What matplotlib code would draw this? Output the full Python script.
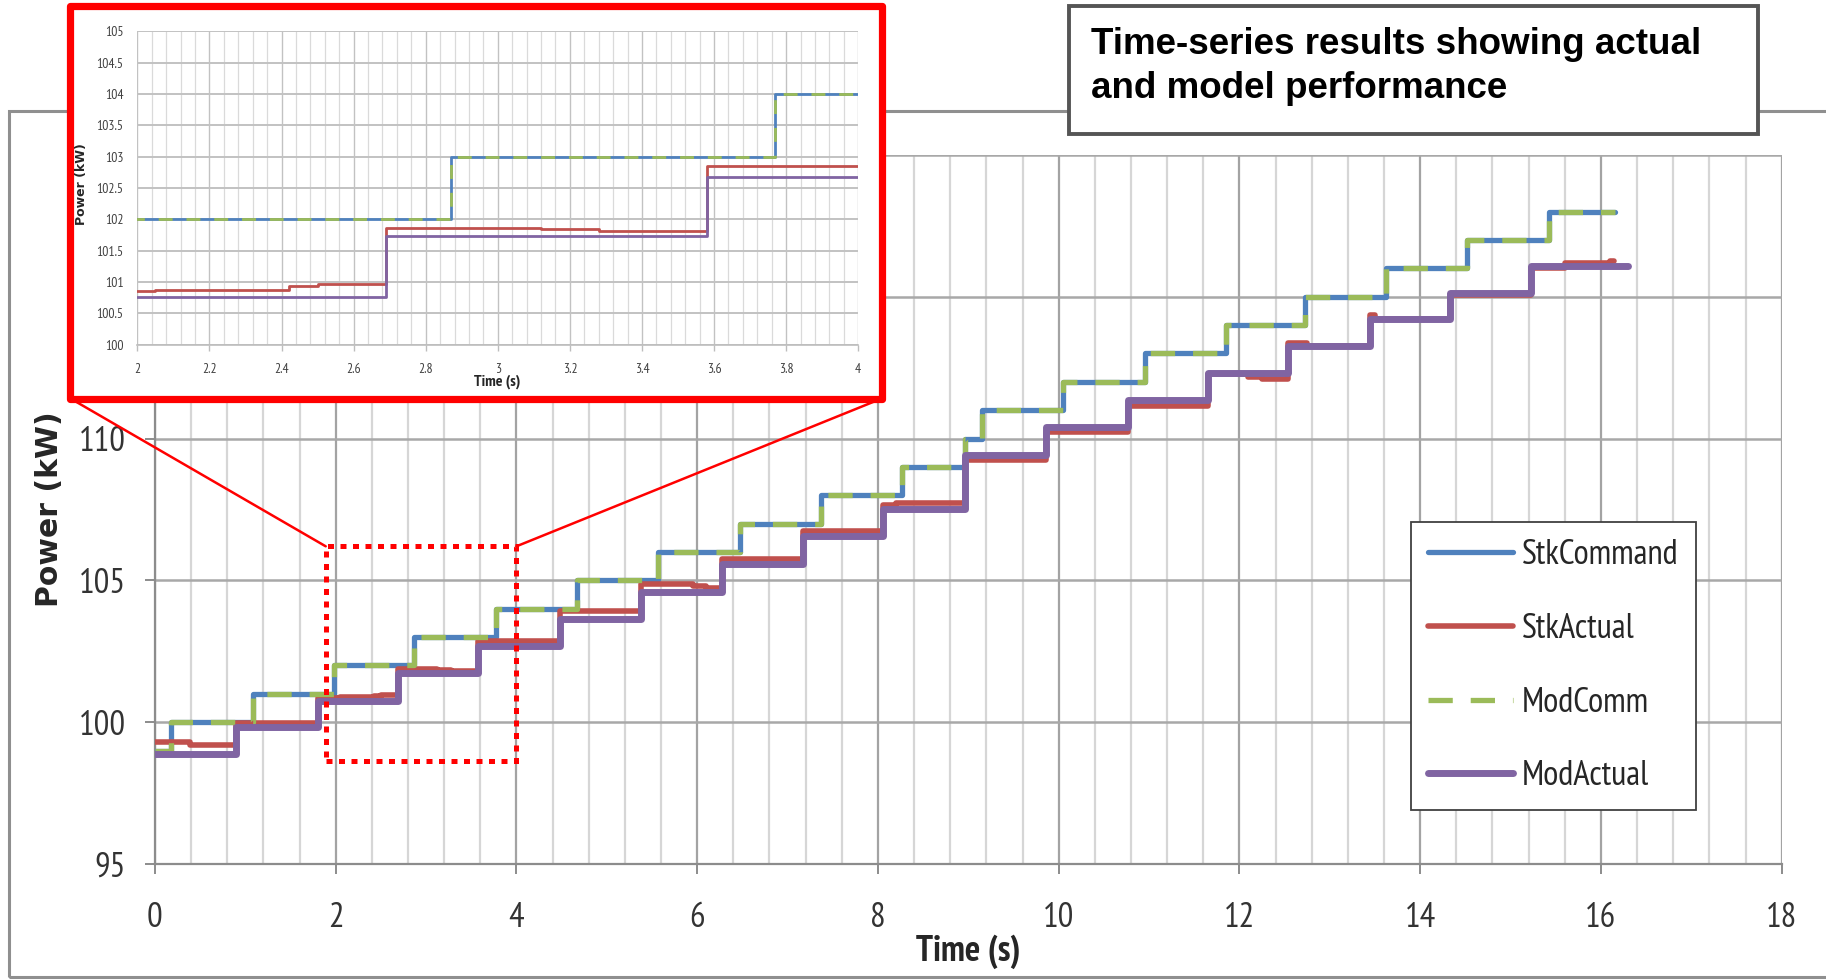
import matplotlib
matplotlib.use("Agg")
import matplotlib.pyplot as plt
from matplotlib.patches import Rectangle, ConnectionPatch
from matplotlib.ticker import MultipleLocator
from matplotlib import font_manager

W, H, DPI = 1826, 980, 100

# ---------------- data ----------------
series_names = ["StkCommand", "StkActual", "ModComm", "ModActual"]

# Command (StkCommand and ModComm are identical step commands)
cmd_t = [0, 0.18, 1.08, 1.98, 2.87, 3.77, 4.67, 5.57, 6.47, 7.37, 8.27, 8.96,
         9.15, 10.05, 10.95, 11.85, 12.73, 13.62, 14.52, 15.42, 16.15]
cmd_v = [99, 100, 101, 102, 103, 104, 105, 106, 107, 108, 109, 110,
         111, 112, 113, 114, 115, 116, 117, 118, 118]
modcomm_t = list(cmd_t)
modcomm_v = list(cmd_v)

# Stack actual
stk_t = [0, 0.39, 0.9, 1.8, 2.05, 2.42, 2.5, 2.69, 3.12, 3.28, 3.58, 4.48,
         5.38, 5.95, 6.1, 6.27, 7.17, 8.06, 8.2, 8.96, 9.86, 10.77, 11.65,
         12.1, 12.25, 12.54, 12.75, 13.44, 13.5, 14.33, 15.23, 15.6, 16.1, 16.14]
stk_v = [99.30, 99.18, 99.97, 100.85, 100.88, 100.93, 100.97, 101.87, 101.84,
         101.82, 102.85, 103.93, 104.86, 104.80, 104.74, 105.74, 106.75,
         107.66, 107.74, 109.24, 110.24, 111.15, 112.28, 112.18, 112.10,
         113.38, 113.26, 114.35, 114.20, 115.06, 116.00, 116.20, 116.26, 116.26]

# Model actual
mod_t = [0, 0.9, 1.8, 2.69, 3.58, 4.48, 5.38, 6.27, 7.17, 8.06, 8.96, 9.86,
         10.77, 11.65, 12.54, 13.44, 14.33, 15.23, 16.30]
mod_v = [98.88, 99.82, 100.76, 101.73, 102.68, 103.65, 104.58, 105.57, 106.57,
         107.53, 109.42, 110.41, 111.36, 112.30, 113.27, 114.21, 115.14, 116.10,
         116.10]

x_ticks = [0, 2, 4, 6, 8, 10, 12, 14, 16, 18]
y_ticks = [95, 100, 105, 110, 115, 120]
# labels of 115 and 120 lie under the inset in the original, so they are not shown
y_labels = ["95", "100", "105", "110", "", ""]

inset_xticks = [2, 2.2, 2.4, 2.6, 2.8, 3, 3.2, 3.4, 3.6, 3.8, 4]
inset_xlabels = ["2", "2.2", "2.4", "2.6", "2.8", "3", "3.2", "3.4", "3.6", "3.8", "4"]
inset_yticks = [100, 100.5, 101, 101.5, 102, 102.5, 103, 103.5, 104, 104.5, 105]
inset_ylabels = ["100", "100.5", "101", "101.5", "102", "102.5", "103", "103.5",
                 "104", "104.5", "105"]

# zoomed region marked on main chart (time range, power range)
zoom_t = [1.89, 4.0]
zoom_p = [98.64, 106.2]

title_lines = ["Time-series results showing actual", "and model performance"]

# ---------------- style ----------------
BLUE, RED, GREEN, PURPLE = "#4f81bd", "#c0504d", "#9bbb59", "#8064a2"
names = {f.name for f in font_manager.fontManager.ttflist}
NARROW = next((n for n in ["PT Sans Narrow", "Liberation Sans Narrow", "Liberation Sans"]
               if n in names), "DejaVu Sans")
TXT = "#333333"

fig = plt.figure(figsize=(W / DPI, H / DPI), dpi=DPI)
fig.patch.set_facecolor("white")


def fx(px):
    return px / W


def fy(py):
    return 1 - py / H


# outer gray frame
fig.add_artist(Rectangle((fx(9), fy(977)), fx(1850) - fx(9), fy(110.6) - fy(977),
                         transform=fig.transFigure, fill=False, ec="#8f8f8f",
                         lw=2.2, zorder=0.5))

# ---------------- main axes ----------------
ax = fig.add_axes([fx(154.9), fy(864), fx(1781.7) - fx(154.9), fy(154.9) - fy(864)])
ax.set_xlim(0, 18)
ax.set_ylim(95, 120)
ax.set_xticks(x_ticks)
ax.set_yticks(y_ticks)
ax.set_yticklabels(y_labels)
ax.xaxis.set_minor_locator(MultipleLocator(0.4))
ax.set_axisbelow(True)
ax.grid(which="minor", axis="x", color="#d6d6d6", lw=1.6)
ax.grid(which="major", axis="x", color="#a3a3a3", lw=1.6)
ax.grid(which="major", axis="y", color="#a8a8a8", lw=1.8)
for s in ["top", "right"]:
    ax.spines[s].set_visible(False)
for s in ["left", "bottom"]:
    ax.spines[s].set_color("#8c8c8c")
    ax.spines[s].set_linewidth(1.6)
ax.tick_params(which="minor", length=0)
ax.tick_params(axis="x", which="major", direction="out", length=7, width=1.4,
               color="#8c8c8c", pad=20, labelsize=25, labelcolor=TXT)
ax.tick_params(axis="y", which="major", direction="out", length=7, width=1.4,
               color="#8c8c8c", pad=14, labelsize=25, labelcolor=TXT)
for lab in ax.get_xticklabels() + ax.get_yticklabels():
    lab.set_fontfamily(NARROW)

kw_solid = dict(where="post", solid_capstyle="round", solid_joinstyle="round", zorder=3)
ax.step(cmd_t, cmd_v, color=BLUE, lw=3.8, label=series_names[0], **kw_solid)
ax.step(stk_t, stk_v, color=RED, lw=4.0, label=series_names[1], **kw_solid)
ax.step(modcomm_t, modcomm_v, where="post", color=GREEN, lw=3.8, dashes=(4.6, 3.4),
        dash_capstyle="butt", label=series_names[2], zorder=3)
ax.step(mod_t, mod_v, color=PURPLE, lw=5.0, label=series_names[3], **kw_solid)

# dotted zoom rectangle
ax.add_patch(Rectangle((zoom_t[0], zoom_p[0]), zoom_t[1] - zoom_t[0], zoom_p[1] - zoom_p[0],
                       fill=False, ec="#ff0000", lw=3.6, linestyle=(0, (1.2, 1.3)),
                       capstyle="butt", zorder=4, clip_on=False))

leg = ax.legend(loc="upper left", bbox_to_anchor=((1411 - 154.9) / 1626.8, (864 - 522) / 709.1),
                borderaxespad=0, prop={"family": NARROW, "size": 25},
                handlelength=2.45, handletextpad=0.25, labelspacing=1.2,
                borderpad=0.5, fancybox=False, framealpha=1, edgecolor="#404040")
leg.get_frame().set_linewidth(1.3)
for t in leg.get_texts():
    t.set_color("#262626")

fig.text(fx(968), fy(952), "Time (s)", ha="center", va="center", fontsize=26,
         fontweight="bold", family=NARROW, color="#262626")
fig.text(fx(50), fy(509.5), "Power (kW)", ha="center", va="center", rotation=90,
         fontsize=21.5, fontweight="bold", family="DejaVu Sans", color="#262626")

# connectors from inset frame to zoom rectangle
for (xa, ya), (xb, yb) in [((fx(72), fy(399.4)), (zoom_t[0], zoom_p[1])),
                           ((fx(879.5), fy(399.4)), (zoom_t[1], zoom_p[1]))]:
    cp = ConnectionPatch(xyA=(xa, ya), coordsA="figure fraction", xyB=(xb, yb),
                         coordsB="data", axesB=ax, color="#ff0000", lw=1.8, zorder=1.5)
    fig.add_artist(cp)

# ---------------- inset ----------------
fig.add_artist(Rectangle((fx(70), fy(399.4)), fx(881.5) - fx(70), fy(5.8) - fy(399.4),
                         transform=fig.transFigure, fc="white", ec="#ff0000", lw=5.2,
                         joinstyle="round", zorder=2))

axi = fig.add_axes([fx(137.4), fy(344.7), fx(858.2) - fx(137.4), fy(31.4) - fy(344.7)], zorder=4)
axi.set_xlim(2, 4)
axi.set_ylim(100, 105)
axi.set_xticks(inset_xticks)
axi.set_xticklabels(inset_xlabels)
axi.set_yticks(inset_yticks)
axi.set_yticklabels(inset_ylabels)
axi.xaxis.set_minor_locator(MultipleLocator(0.04))
axi.set_axisbelow(True)
axi.grid(which="minor", axis="x", color="#dadada", lw=0.9)
axi.grid(which="major", axis="x", color="#c2c2c2", lw=1.0)
axi.grid(which="major", axis="y", color="#c2c2c2", lw=1.4)
for s in ["top", "right", "left"]:
    axi.spines[s].set_visible(False)
axi.spines["bottom"].set_color("#bdbdbd")
axi.spines["bottom"].set_linewidth(1.2)
axi.tick_params(which="minor", length=0)
axi.tick_params(axis="x", which="major", length=4, width=1, color="#bdbdbd", pad=9,
                labelsize=9.8, labelcolor="#404040")
axi.tick_params(axis="y", which="major", length=0, pad=10, labelsize=9.8, labelcolor="#404040")
for lab in axi.get_xticklabels() + axi.get_yticklabels():
    lab.set_fontfamily(NARROW)

axi.step(cmd_t, cmd_v, where="post", color=BLUE, lw=2.0, zorder=3)
axi.step(stk_t, stk_v, where="post", color=RED, lw=2.0, zorder=3)
axi.step(modcomm_t, modcomm_v, where="post", color=GREEN, lw=2.0, dashes=(5, 5),
         dash_capstyle="butt", zorder=3)
axi.step(mod_t, mod_v, where="post", color=PURPLE, lw=2.0, zorder=3)

fig.text(fx(81), fy(184), "Power (kW)", ha="center", va="center", rotation=90,
         fontsize=9, fontweight="bold", family="DejaVu Sans", color="#262626", zorder=5)
fig.text(fx(497), fy(382), "Time (s)", ha="center", va="center", fontsize=11.5,
         fontweight="bold", family=NARROW, color="#262626", zorder=5)

# ---------------- title box ----------------
fig.add_artist(Rectangle((fx(1069), fy(134)), fx(1758) - fx(1069), fy(6) - fy(134),
                         transform=fig.transFigure, fc="white", ec="#555555", lw=2.8,
                         zorder=3))
fig.text(fx(1091), fy(53.6), title_lines[0], ha="left", va="baseline", fontsize=26.5,
         fontweight="bold", family="Liberation Sans", color="black", zorder=4)
fig.text(fx(1091), fy(97.8), title_lines[1], ha="left", va="baseline", fontsize=26.5,
         fontweight="bold", family="Liberation Sans", color="black", zorder=4)

fig.savefig("out.png", dpi=DPI, facecolor="white")
